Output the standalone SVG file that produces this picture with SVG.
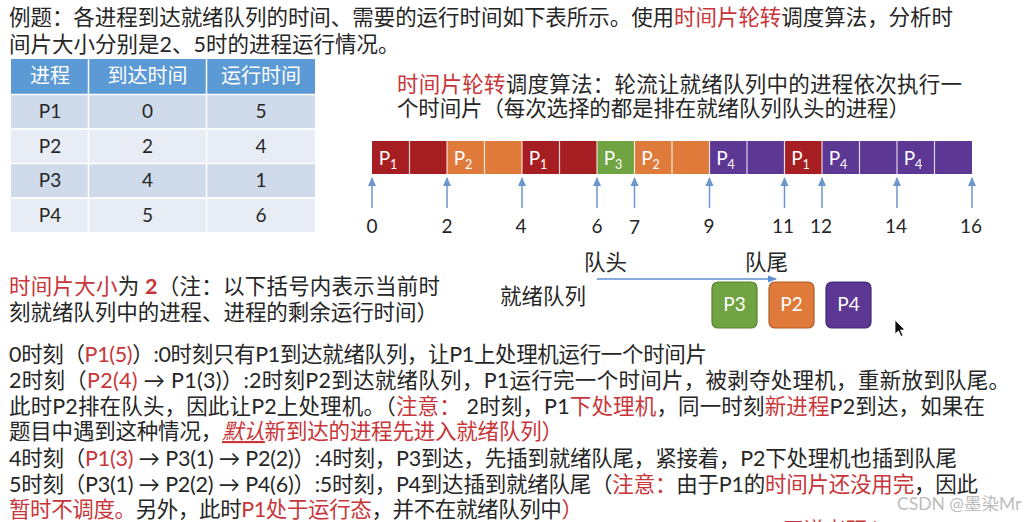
<svg xmlns="http://www.w3.org/2000/svg" width="1033" height="522" viewBox="0 0 1033 522">
<defs>
<style>
text{font-family:Lato,"Noto Sans CJK SC",sans-serif;fill:#262626}
.t{font-size:21.5px}
.r{fill:#C8363A}
.th{font-size:20px;fill:#fff;text-anchor:middle}
.td{font-size:19px;text-anchor:middle}
.cl{font-size:19px;fill:#fff;text-anchor:middle}
.sub{font-size:12.5px;fill:#fff}
.num{font-size:19px;text-anchor:middle}
.tick{stroke:#6C97CC;stroke-width:1.5;fill:none}
.red{fill:#A61E22}.org{fill:#E07A3A}.grn{fill:#70A342}.pur{fill:#5C3793}
.sep{stroke:#fff;stroke-width:1.2;opacity:0.8}
</style>
<marker id="ah" markerWidth="10" markerHeight="10" refX="8" refY="5" orient="auto" markerUnits="userSpaceOnUse">
<path d="M0,1 L9,5 L0,9 Z" fill="#6C97CC"/>
</marker>
<marker id="ah2" markerWidth="10" markerHeight="10" refX="8" refY="5" orient="auto" markerUnits="userSpaceOnUse">
<path d="M0,1.5 L9,5 L0,8.5 Z" fill="#5B8FD0"/>
</marker>
</defs>
<rect width="1033" height="522" fill="#fff"/>

<!-- title -->
<g id="title">
<text class="t" x="9" y="25" textLength="944" lengthAdjust="spacing">例题：各进程到达就绪队列的时间、需要的运行时间如下表所示。使用<tspan class="r">时间片轮转</tspan>调度算法，分析时</text>
<text class="t" x="9" y="52">间片大小分别是2、5时的进程运行情况。</text>
</g>

<!-- table -->
<g id="table">
<rect x="11" y="59" width="304" height="35" fill="#5B9AD4"/>
<rect x="11" y="95" width="304" height="33.5" fill="#CFDAEA"/>
<rect x="11" y="129.5" width="304" height="33.5" fill="#E8EDF5"/>
<rect x="11" y="164" width="304" height="33.5" fill="#CFDAEA"/>
<rect x="11" y="198.5" width="304" height="33.5" fill="#E8EDF5"/>
<g stroke="#fff" stroke-width="1.5">
<line x1="88.5" y1="59" x2="88.5" y2="232"/>
<line x1="206.5" y1="59" x2="206.5" y2="232"/>
<line x1="11" y1="94.5" x2="315" y2="94.5"/>
<line x1="11" y1="129" x2="315" y2="129"/>
<line x1="11" y1="163.5" x2="315" y2="163.5"/>
<line x1="11" y1="198" x2="315" y2="198"/>
</g>
<text class="th" x="50" y="83">进程</text>
<text class="th" x="147.5" y="83">到达时间</text>
<text class="th" x="261" y="83">运行时间</text>
<text class="td" x="50" y="118">P1</text><text class="td" x="147.5" y="118">0</text><text class="td" x="261" y="118">5</text>
<text class="td" x="50" y="152.5">P2</text><text class="td" x="147.5" y="152.5">2</text><text class="td" x="261" y="152.5">4</text>
<text class="td" x="50" y="187">P3</text><text class="td" x="147.5" y="187">4</text><text class="td" x="261" y="187">1</text>
<text class="td" x="50" y="221.5">P4</text><text class="td" x="147.5" y="221.5">5</text><text class="td" x="261" y="221.5">6</text>
</g>

<!-- RR description -->
<g id="rr-desc">
<text class="t" x="397" y="92" textLength="565" lengthAdjust="spacing"><tspan class="r">时间片轮转</tspan>调度算法：轮流让就绪队列中的进程依次执行一</text>
<text class="t" x="397" y="116" textLength="513" lengthAdjust="spacing">个时间片（每次选择的都是排在就绪队列队头的进程）</text>
</g>

<!-- timeline -->
<g id="timeline">
<rect class="red" x="372" y="141" width="75" height="33"/>
<rect class="org" x="447" y="141" width="75" height="33"/>
<rect class="red" x="522" y="141" width="75" height="33"/>
<rect class="grn" x="597" y="141" width="37.5" height="33"/>
<rect class="org" x="634.5" y="141" width="75" height="33"/>
<rect class="pur" x="709.5" y="141" width="75" height="33"/>
<rect class="red" x="784.5" y="141" width="37.5" height="33"/>
<rect class="pur" x="822" y="141" width="150" height="33"/>
<g class="sep">
<line x1="409.5" y1="141" x2="409.5" y2="174"/><line x1="447" y1="141" x2="447" y2="174"/>
<line x1="484.5" y1="141" x2="484.5" y2="174"/><line x1="522" y1="141" x2="522" y2="174"/>
<line x1="559.5" y1="141" x2="559.5" y2="174"/><line x1="597" y1="141" x2="597" y2="174"/>
<line x1="634.5" y1="141" x2="634.5" y2="174"/><line x1="672" y1="141" x2="672" y2="174"/>
<line x1="709.5" y1="141" x2="709.5" y2="174"/><line x1="747" y1="141" x2="747" y2="174"/>
<line x1="784.5" y1="141" x2="784.5" y2="174"/><line x1="822" y1="141" x2="822" y2="174"/>
<line x1="859.5" y1="141" x2="859.5" y2="174"/><line x1="897" y1="141" x2="897" y2="174"/>
<line x1="934.5" y1="141" x2="934.5" y2="174"/>
</g>
<text class="cl" x="388" y="165">P<tspan class="sub" dy="4">1</tspan></text>
<text class="cl" x="463" y="165">P<tspan class="sub" dy="4">2</tspan></text>
<text class="cl" x="538" y="165">P<tspan class="sub" dy="4">1</tspan></text>
<text class="cl" x="613" y="165">P<tspan class="sub" dy="4">3</tspan></text>
<text class="cl" x="650.5" y="165">P<tspan class="sub" dy="4">2</tspan></text>
<text class="cl" x="725.5" y="165">P<tspan class="sub" dy="4">4</tspan></text>
<text class="cl" x="800.5" y="165">P<tspan class="sub" dy="4">1</tspan></text>
<text class="cl" x="838" y="165">P<tspan class="sub" dy="4">4</tspan></text>
<text class="cl" x="913" y="165">P<tspan class="sub" dy="4">4</tspan></text>
</g>

<g id="connectors">
<line class="tick" x1="372" y1="208" x2="372" y2="178" marker-end="url(#ah)"/>
<line class="tick" x1="447" y1="208" x2="447" y2="178" marker-end="url(#ah)"/>
<line class="tick" x1="522" y1="208" x2="522" y2="178" marker-end="url(#ah)"/>
<line class="tick" x1="597" y1="208" x2="597" y2="178" marker-end="url(#ah)"/>
<line class="tick" x1="634.5" y1="208" x2="634.5" y2="178" marker-end="url(#ah)"/>
<line class="tick" x1="709.5" y1="208" x2="709.5" y2="178" marker-end="url(#ah)"/>
<line class="tick" x1="784.5" y1="208" x2="784.5" y2="178" marker-end="url(#ah)"/>
<line class="tick" x1="822" y1="208" x2="822" y2="178" marker-end="url(#ah)"/>
<line class="tick" x1="897" y1="208" x2="897" y2="178" marker-end="url(#ah)"/>
<line class="tick" x1="972" y1="208" x2="972" y2="178" marker-end="url(#ah)"/>
<line x1="597" y1="279" x2="776" y2="279" stroke="#5B8FD0" stroke-width="1.5" marker-end="url(#ah2)"/>
</g>

<g id="ticks">
<text class="num" x="372" y="233">0</text>
<text class="num" x="447" y="233">2</text>
<text class="num" x="521" y="233">4</text>
<text class="num" x="597" y="233">6</text>
<text class="num" x="634.5" y="234">7</text>
<text class="num" x="709" y="233">9</text>
<text class="num" x="783" y="233">11</text>
<text class="num" x="821" y="233">12</text>
<text class="num" x="896" y="233">14</text>
<text class="num" x="971" y="233">16</text>
</g>

<!-- ready queue -->
<g id="queue-labels">
<text class="t" x="584" y="270">队头</text>
<text class="t" x="745" y="270">队尾</text>
<text class="t" x="500" y="304">就绪队列</text>
</g>
<g id="q-p3"><rect x="712" y="282" width="45" height="46" rx="6" fill="#70A342" stroke="#56822F" stroke-width="1.2"/><text class="cl" x="734.5" y="311">P3</text></g>
<g id="q-p2"><rect x="769" y="282" width="45" height="46" rx="6" fill="#E07A3A" stroke="#B05A22" stroke-width="1.2"/><text class="cl" x="791.5" y="311">P2</text></g>
<g id="q-p4"><rect x="826" y="282" width="45" height="46" rx="6" fill="#5C3793" stroke="#442670" stroke-width="1.2"/><text class="cl" x="848.5" y="311">P4</text></g>

<!-- notes -->
<g id="note">
<text class="t" x="9" y="294" textLength="431" lengthAdjust="spacing"><tspan class="r">时间片大小</tspan>为 <tspan class="r" font-weight="bold">2</tspan>（注：以下括号内表示当前时</text>
<text class="t" x="9" y="320" textLength="429" lengthAdjust="spacing">刻就绪队列中的进程、进程的剩余运行时间）</text>
</g>

<g id="explain">
<text class="t" x="9" y="362" textLength="698" lengthAdjust="spacing">0时刻（<tspan class="r">P1(5)</tspan>）:0时刻只有P1到达就绪队列，让P1上处理机运行一个时间片</text>
<text class="t" x="9" y="388" textLength="1001" lengthAdjust="spacing">2时刻（<tspan class="r">P2(4)</tspan> → P1(3)）:2时刻P2到达就绪队列，P1运行完一个时间片，被剥夺处理机，重新放到队尾。</text>
<text class="t" x="9" y="414" textLength="976" lengthAdjust="spacing">此时P2排在队头，因此让P2上处理机。（<tspan class="r">注意：</tspan> 2时刻，P1<tspan class="r">下处理机</tspan>，同一时刻<tspan class="r">新进程</tspan>P2到达，如果在</text>
<text class="t" x="9" y="439" textLength="554" lengthAdjust="spacing">题目中遇到这种情况，<tspan class="r" font-style="italic" text-decoration="underline">默认</tspan><tspan class="r">新到达的进程先进入就绪队列）</tspan></text>
<text class="t" x="9" y="466" textLength="948" lengthAdjust="spacing">4时刻（<tspan class="r">P1(3)</tspan> → P3(1) → P2(2)）:4时刻，P3到达，先插到就绪队尾，紧接着，P2下处理机也插到队尾</text>
<text class="t" x="9" y="492" textLength="969" lengthAdjust="spacing">5时刻（P3(1) → P2(2) → P4(6)）:5时刻，P4到达插到就绪队尾（<tspan class="r">注意：</tspan>由于P1的<tspan class="r">时间片还没用完</tspan>，因此</text>
<text class="t" x="9" y="517" textLength="574" lengthAdjust="spacing"><tspan class="r">暂时不调度。</tspan>另外，此时<tspan class="r">P1处于运行态</tspan>，并不在就绪队列中<tspan class="r">）</tspan></text>
</g>

<g id="watermark">
<text x="897" y="510" font-size="17.5" style="fill:#BDBDBD">CSDN @墨染Mr</text>
<text x="783" y="537" font-size="21" style="fill:#C8363A">王道考研/CSKAOYAN.COM</text>
</g>
<path id="cursor" d="M895,320 L895,334 L898.5,331 L901,336.5 L903,335.5 L900.5,330 L905,330 Z" fill="#111" stroke="#fff" stroke-width="0.8"/>
</svg>
